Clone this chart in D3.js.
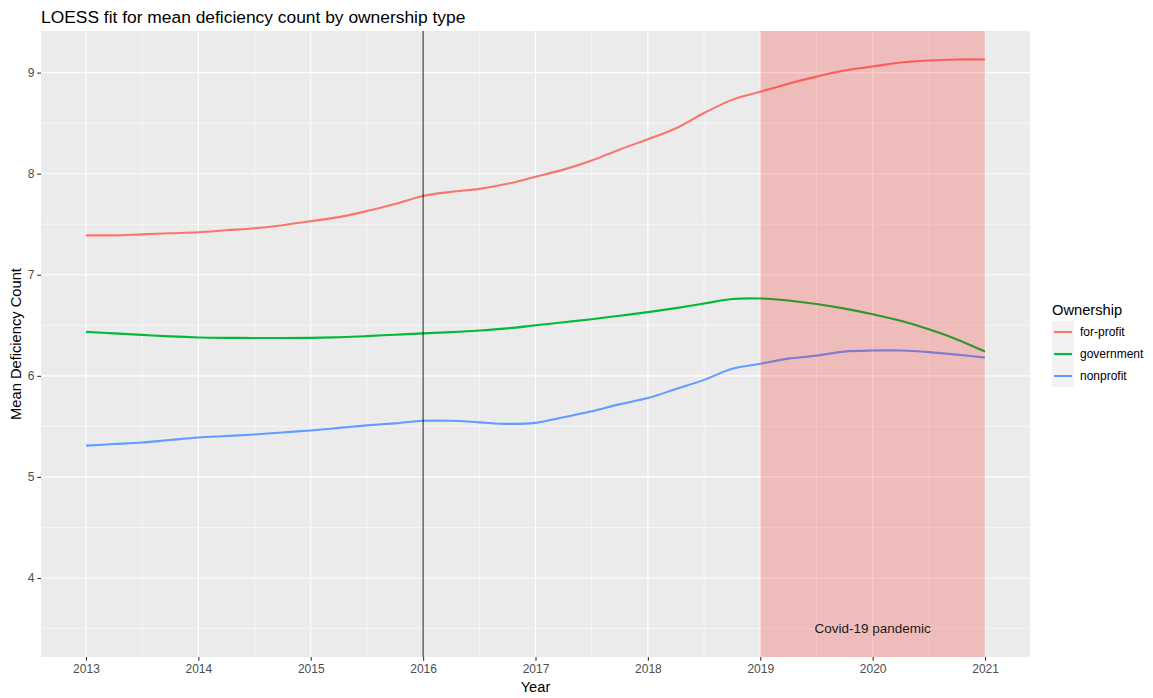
<!DOCTYPE html>
<html>
<head>
<meta charset="utf-8">
<script src="https://cdn.jsdelivr.net/npm/d3@7"></script>
<style>
  body { margin: 0; background: #fff; }
  text { font-family: "Liberation Sans", Arial, sans-serif; }
</style>
</head>
<body>
<div id="chart"></div>
<script>
// quarter-year sample points of the LOESS fits
const years = [2013, 2013.25, 2013.5, 2013.75, 2014, 2014.25, 2014.5, 2014.75,
  2015, 2015.25, 2015.5, 2015.75, 2016, 2016.25, 2016.5, 2016.75,
  2017, 2017.25, 2017.5, 2017.75, 2018, 2018.25, 2018.5, 2018.75,
  2019, 2019.25, 2019.5, 2019.75, 2020, 2020.25, 2020.5, 2020.75, 2021];

const forProfit = [7.39, 7.39, 7.40, 7.41, 7.42, 7.44, 7.46, 7.49,
  7.53, 7.57, 7.63, 7.70, 7.78, 7.82, 7.85, 7.90,
  7.97, 8.04, 8.13, 8.24, 8.34, 8.45, 8.60, 8.73,
  8.81, 8.89, 8.96, 9.02, 9.06, 9.10, 9.12, 9.13, 9.13];

const government = [6.435, 6.42, 6.405, 6.39, 6.38, 6.376, 6.375, 6.375,
  6.376, 6.382, 6.393, 6.407, 6.42, 6.432, 6.448, 6.47,
  6.50, 6.53, 6.56, 6.595, 6.63, 6.67, 6.715, 6.76,
  6.765, 6.745, 6.71, 6.665, 6.61, 6.545, 6.46, 6.36, 6.24];

const nonprofit = [5.31, 5.325, 5.34, 5.365, 5.39, 5.405, 5.42, 5.44,
  5.46, 5.485, 5.51, 5.53, 5.555, 5.555, 5.54, 5.525,
  5.535, 5.59, 5.65, 5.72, 5.78, 5.87, 5.96, 6.07,
  6.12, 6.17, 6.20, 6.24, 6.25, 6.25, 6.235, 6.21, 6.18];

const seriesNames = ["for-profit", "government", "nonprofit"];
const seriesColors = ["#F8766D", "#00BA38", "#619CFF"];
const xTicks = [2013, 2014, 2015, 2016, 2017, 2018, 2019, 2020, 2021];
const yTicks = [4, 5, 6, 7, 8, 9];
const vlineYear = 2016;
const covidStart = 2019, covidEnd = 2021;
const covidLabel = "Covid-19 pandemic";
const covidLabelX = 2020, covidLabelY = 3.5;

const W = 1153, H = 698;
const panel = { left: 41, right: 1030, top: 31, bottom: 657 };

const svg = d3.select("#chart").append("svg")
    .attr("width", W)
    .attr("height", H);

const series = seriesNames.map((name, i) => ({
  name, color: seriesColors[i],
  values: years.map((yr, j) => ({ x: yr, y: [forProfit, government, nonprofit][i][j] }))
}));

// ggplot-style 5% expansion
const xr = d3.extent(years), xPad = (xr[1] - xr[0]) * 0.05;
const allY = forProfit.concat(government, nonprofit, [covidLabelY]);
const yr = d3.extent(allY), yPad = (yr[1] - yr[0]) * 0.05;

const x = d3.scaleLinear().domain([xr[0] - xPad, xr[1] + xPad]).range([panel.left, panel.right]);
const y = d3.scaleLinear().domain([yr[0] - yPad, yr[1] + yPad]).range([panel.bottom, panel.top]);

// panel background
svg.append("rect")
    .attr("x", panel.left).attr("y", panel.top)
    .attr("width", panel.right - panel.left)
    .attr("height", panel.bottom - panel.top)
    .attr("fill", "#EBEBEB");

// minor grid
const xMinor = xTicks.slice(0, -1).map(d => d + 0.5);
const yMinor = [3.5].concat(yTicks.map(d => d + 0.5)).filter(d => d >= y.domain()[0] && d <= y.domain()[1]);
const grid = svg.append("g");
grid.selectAll(".vminor").data(xMinor).join("line")
    .attr("x1", d => x(d)).attr("x2", d => x(d))
    .attr("y1", panel.top).attr("y2", panel.bottom)
    .attr("stroke", "#fff").attr("stroke-width", 0.55);
grid.selectAll(".hminor").data(yMinor).join("line")
    .attr("class", "hminor")
    .attr("x1", panel.left).attr("x2", panel.right)
    .attr("y1", d => y(d)).attr("y2", d => y(d))
    .attr("stroke", "#fff").attr("stroke-width", 0.55);
// major grid
grid.selectAll(".vmajor").data(xTicks).join("line")
    .attr("class", "vmajor")
    .attr("x1", d => x(d)).attr("x2", d => x(d))
    .attr("y1", panel.top).attr("y2", panel.bottom)
    .attr("stroke", "#fff").attr("stroke-width", 1.1);
grid.selectAll(".hmajor").data(yTicks).join("line")
    .attr("class", "hmajor")
    .attr("x1", panel.left).attr("x2", panel.right)
    .attr("y1", d => y(d)).attr("y2", d => y(d))
    .attr("stroke", "#fff").attr("stroke-width", 1.1);

// smooth lines
const line = d3.line()
    .x(d => x(d.x))
    .y(d => y(d.y))
    .curve(d3.curveCatmullRom.alpha(0.5));

svg.append("g").selectAll("path").data(series).join("path")
    .attr("d", d => line(d.values))
    .attr("fill", "none")
    .attr("stroke", d => d.color)
    .attr("stroke-width", 2.1);

// vertical reference line
svg.append("line")
    .attr("x1", x(vlineYear)).attr("x2", x(vlineYear))
    .attr("y1", panel.top).attr("y2", panel.bottom)
    .attr("stroke", "#000").attr("stroke-width", 1.2).attr("stroke-opacity", 0.75);

// covid shaded period
svg.append("rect")
    .attr("x", x(covidStart)).attr("y", panel.top)
    .attr("width", x(covidEnd) - x(covidStart))
    .attr("height", panel.bottom - panel.top)
    .attr("fill", "red").attr("fill-opacity", 0.2);

svg.append("text")
    .attr("x", x(covidLabelX)).attr("y", y(covidLabelY))
    .attr("dy", "0.35em")
    .attr("text-anchor", "middle")
    .attr("font-size", 13.5)
    .attr("fill", "#1a1a1a")
    .text(covidLabel);

// axes
const xAxis = svg.append("g")
    .attr("transform", `translate(0,${panel.bottom})`)
    .call(d3.axisBottom(x).tickValues(xTicks).tickFormat(d3.format("d")).tickSize(3.7).tickPadding(3.5));
const yAxis = svg.append("g")
    .attr("transform", `translate(${panel.left},0)`)
    .call(d3.axisLeft(y).tickValues(yTicks).tickFormat(d3.format("d")).tickSize(3.7).tickPadding(3));
[xAxis, yAxis].forEach(ax => {
  ax.select(".domain").remove();
  ax.selectAll(".tick line").attr("stroke", "#333").attr("stroke-width", 1.1);
  ax.selectAll(".tick text")
      .attr("fill", "#4D4D4D")
      .attr("font-size", 12)
      .style("font-family", '"Liberation Sans", Arial, sans-serif');
});

// axis titles
svg.append("text")
    .attr("x", (panel.left + panel.right) / 2).attr("y", 692)
    .attr("text-anchor", "middle")
    .attr("font-size", 14.7)
    .attr("fill", "#000")
    .text("Year");
svg.append("text")
    .attr("transform", `translate(21,${(panel.top + panel.bottom) / 2}) rotate(-90)`)
    .attr("text-anchor", "middle")
    .attr("font-size", 14.7)
    .attr("fill", "#000")
    .text("Mean Deficiency Count");

// title
svg.append("text")
    .attr("x", panel.left).attr("y", 23)
    .attr("font-size", 17.4)
    .attr("fill", "#000")
    .text("LOESS fit for mean deficiency count by ownership type");

// legend
const legend = svg.append("g").attr("transform", "translate(1052,315)");
legend.append("text")
    .attr("x", 0).attr("y", 0)
    .attr("font-size", 14.7)
    .attr("fill", "#000")
    .text("Ownership");
const keyH = 22, keyW = 22, keyTop = 6;
const item = legend.selectAll(".item").data(series).join("g")
    .attr("class", "item")
    .attr("transform", (d, i) => `translate(0,${keyTop + i * keyH})`);
item.append("rect")
    .attr("width", keyW).attr("height", keyH)
    .attr("fill", "#F2F2F2");
item.append("line")
    .attr("x1", 2).attr("x2", keyW - 2)
    .attr("y1", keyH / 2).attr("y2", keyH / 2)
    .attr("stroke", d => d.color)
    .attr("stroke-width", 2.1);
item.append("text")
    .attr("x", keyW + 6).attr("y", keyH / 2)
    .attr("dy", "0.35em")
    .attr("font-size", 12)
    .attr("fill", "#000")
    .text(d => d.name);
</script>
</body>
</html>
